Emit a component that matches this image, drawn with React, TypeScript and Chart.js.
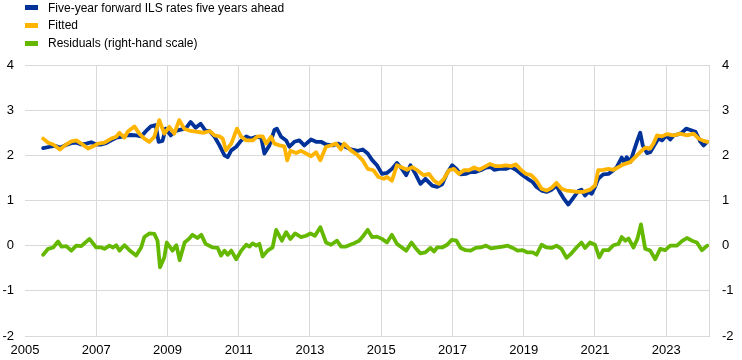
import React, { useEffect, useRef } from "react";
import { Chart, registerables } from "chart.js";

Chart.register(...registerables);

// ---- Data ----
const xTickYears = [2005, 2007, 2009, 2011, 2013, 2015, 2017, 2019, 2021, 2023];
const yTicks = [-2, -1, 0, 1, 2, 3, 4];

const ilsDates = [
  2005.51, 2005.70, 2005.84, 2005.98, 2006.12, 2006.30, 2006.44, 2006.58, 2006.72, 2006.86,
  2007.00, 2007.14, 2007.28, 2007.42, 2007.56, 2007.70, 2007.84, 2007.98, 2008.12, 2008.26,
  2008.40, 2008.53, 2008.67, 2008.75, 2008.86, 2008.95, 2009.09, 2009.23, 2009.37, 2009.51,
  2009.65, 2009.79, 2009.93, 2010.07, 2010.18, 2010.32, 2010.46, 2010.60, 2010.69, 2010.79,
  2010.93, 2011.07, 2011.21, 2011.35, 2011.49, 2011.63, 2011.72, 2011.86, 2012.00, 2012.07,
  2012.19, 2012.33, 2012.42, 2012.56, 2012.70, 2012.84, 2013.03, 2013.17, 2013.31, 2013.45,
  2013.64, 2013.78, 2013.96, 2014.15, 2014.34, 2014.48, 2014.62, 2014.74, 2014.88, 2015.02,
  2015.16, 2015.30, 2015.44, 2015.58, 2015.70, 2015.82, 2015.96, 2016.10, 2016.24, 2016.43,
  2016.57, 2016.71, 2016.85, 2016.99, 2017.11, 2017.23, 2017.37, 2017.51, 2017.65, 2017.79,
  2017.94, 2018.08, 2018.17, 2018.31, 2018.50, 2018.64, 2018.78, 2018.92, 2019.11, 2019.25,
  2019.36, 2019.50, 2019.64, 2019.78, 2019.92, 2020.01, 2020.11, 2020.25, 2020.39, 2020.53,
  2020.62, 2020.72, 2020.81, 2020.91, 2021.00, 2021.09, 2021.23, 2021.38, 2021.52, 2021.61,
  2021.75, 2021.82, 2021.89, 2021.99, 2022.08, 2022.19, 2022.27, 2022.34, 2022.46, 2022.55,
  2022.64, 2022.78, 2022.88, 2023.00, 2023.11, 2023.21, 2023.35, 2023.44, 2023.56, 2023.68,
  2023.82, 2023.96, 2024.05, 2024.15,
];
const ilsValues = [
  2.16, 2.19, 2.21, 2.17, 2.22, 2.27, 2.28, 2.24, 2.26, 2.29,
  2.24, 2.24, 2.27, 2.33, 2.39, 2.41, 2.44, 2.45, 2.44, 2.42,
  2.54, 2.64, 2.67, 2.30, 2.32, 2.59, 2.44, 2.54, 2.57, 2.59,
  2.74, 2.61, 2.70, 2.54, 2.54, 2.41, 2.22, 2.00, 1.96, 2.11,
  2.19, 2.33, 2.42, 2.37, 2.41, 2.39, 2.04, 2.22, 2.56, 2.59,
  2.41, 2.33, 2.19, 2.30, 2.33, 2.22, 2.35, 2.30, 2.30, 2.24,
  2.22, 2.26, 2.20, 2.13, 2.10, 2.13, 2.04, 1.90, 1.78, 1.59,
  1.61, 1.70, 1.83, 1.70, 1.56, 1.78, 1.59, 1.37, 1.48, 1.33,
  1.30, 1.36, 1.61, 1.78, 1.70, 1.58, 1.59, 1.63, 1.63, 1.67,
  1.73, 1.74, 1.68, 1.70, 1.70, 1.74, 1.68, 1.59, 1.48, 1.41,
  1.30, 1.22, 1.19, 1.24, 1.33, 1.19, 1.06, 0.91, 1.06, 1.21,
  1.24, 1.11, 1.19, 1.15, 1.30, 1.48, 1.58, 1.59, 1.67, 1.74,
  1.95, 1.85, 1.96, 1.85, 2.07, 2.33, 2.50, 2.22, 2.05, 2.07,
  2.19, 2.37, 2.33, 2.44, 2.35, 2.44, 2.47, 2.50, 2.59, 2.56,
  2.52, 2.30, 2.22, 2.30,
];

const fittedDates = [
  2005.51, 2005.65, 2005.79, 2005.98, 2006.12, 2006.30, 2006.44, 2006.58, 2006.77, 2006.91,
  2007.05, 2007.23, 2007.42, 2007.56, 2007.65, 2007.79, 2007.88, 2008.07, 2008.21, 2008.35,
  2008.49, 2008.63, 2008.77, 2008.91, 2009.05, 2009.19, 2009.33, 2009.47, 2009.65, 2009.84,
  2010.02, 2010.18, 2010.32, 2010.46, 2010.55, 2010.64, 2010.79, 2010.95, 2011.07, 2011.21,
  2011.39, 2011.53, 2011.67, 2011.77, 2011.91, 2012.00, 2012.14, 2012.28, 2012.36, 2012.45,
  2012.61, 2012.75, 2012.89, 2013.03, 2013.17, 2013.29, 2013.45, 2013.59, 2013.73, 2013.87,
  2013.96, 2014.15, 2014.34, 2014.48, 2014.62, 2014.78, 2014.92, 2015.07, 2015.16, 2015.30,
  2015.44, 2015.58, 2015.72, 2015.87, 2016.01, 2016.19, 2016.34, 2016.48, 2016.62, 2016.76,
  2016.90, 2017.04, 2017.18, 2017.32, 2017.46, 2017.61, 2017.75, 2017.89, 2018.05, 2018.22,
  2018.36, 2018.50, 2018.64, 2018.78, 2018.92, 2019.06, 2019.21, 2019.36, 2019.50, 2019.64,
  2019.78, 2019.92, 2020.06, 2020.20, 2020.34, 2020.48, 2020.67, 2020.86, 2021.00, 2021.09,
  2021.23, 2021.38, 2021.52, 2021.66, 2021.80, 2021.99, 2022.13, 2022.27, 2022.41, 2022.55,
  2022.64, 2022.74, 2022.88, 2023.02, 2023.21, 2023.39, 2023.58, 2023.77, 2023.91, 2024.05,
  2024.15,
];
const fittedValues = [
  2.37, 2.28, 2.24, 2.13, 2.22, 2.31, 2.33, 2.26, 2.15, 2.20,
  2.26, 2.28, 2.37, 2.41, 2.50, 2.39, 2.52, 2.64, 2.48, 2.37,
  2.30, 2.41, 2.78, 2.48, 2.63, 2.48, 2.78, 2.59, 2.54, 2.52,
  2.50, 2.54, 2.44, 2.42, 2.37, 2.11, 2.26, 2.59, 2.41, 2.33,
  2.33, 2.42, 2.42, 2.26, 2.41, 2.26, 2.22, 2.20, 1.89, 2.10,
  2.05, 2.10, 2.04, 1.98, 2.07, 1.89, 2.19, 2.22, 2.26, 2.13,
  2.26, 2.11, 2.00, 1.89, 1.70, 1.67, 1.52, 1.48, 1.52, 1.44,
  1.78, 1.73, 1.68, 1.74, 1.67, 1.56, 1.59, 1.44, 1.37, 1.48,
  1.67, 1.70, 1.59, 1.67, 1.67, 1.73, 1.68, 1.74, 1.81, 1.76,
  1.76, 1.78, 1.76, 1.80, 1.68, 1.59, 1.56, 1.44, 1.26, 1.22,
  1.28, 1.39, 1.26, 1.22, 1.21, 1.19, 1.19, 1.24, 1.33, 1.67,
  1.68, 1.70, 1.68, 1.74, 1.80, 1.85, 1.96, 2.07, 2.17, 2.15,
  2.26, 2.44, 2.42, 2.47, 2.44, 2.48, 2.44, 2.48, 2.37, 2.32,
  2.30,
];

const residualDates = [
  2005.51, 2005.65, 2005.79, 2005.93, 2006.02, 2006.16, 2006.30, 2006.44, 2006.58, 2006.81,
  2007.00, 2007.14, 2007.23, 2007.37, 2007.47, 2007.56, 2007.65, 2007.79, 2007.93, 2008.12,
  2008.26, 2008.35, 2008.49, 2008.63, 2008.72, 2008.79, 2008.91, 2008.98, 2009.14, 2009.25,
  2009.34, 2009.48, 2009.60, 2009.70, 2009.84, 2009.95, 2010.07, 2010.27, 2010.41, 2010.50,
  2010.60, 2010.69, 2010.79, 2010.93, 2011.07, 2011.21, 2011.30, 2011.39, 2011.49, 2011.58,
  2011.67, 2011.81, 2011.95, 2012.05, 2012.21, 2012.33, 2012.45, 2012.58, 2012.75, 2012.89,
  2013.01, 2013.14, 2013.29, 2013.45, 2013.59, 2013.76, 2013.87, 2014.01, 2014.20, 2014.38,
  2014.50, 2014.62, 2014.74, 2014.88, 2015.02, 2015.16, 2015.30, 2015.44, 2015.58, 2015.70,
  2015.85, 2015.96, 2016.10, 2016.24, 2016.38, 2016.48, 2016.57, 2016.71, 2016.85, 2016.98,
  2017.11, 2017.23, 2017.37, 2017.51, 2017.65, 2017.79, 2017.94, 2018.08, 2018.26, 2018.41,
  2018.55, 2018.69, 2018.83, 2018.97, 2019.11, 2019.25, 2019.36, 2019.50, 2019.64, 2019.78,
  2019.92, 2020.06, 2020.20, 2020.34, 2020.48, 2020.62, 2020.72, 2020.86, 2021.00, 2021.12,
  2021.23, 2021.38, 2021.52, 2021.66, 2021.75, 2021.85, 2021.94, 2022.08, 2022.19, 2022.29,
  2022.41, 2022.55, 2022.69, 2022.83, 2022.97, 2023.11, 2023.30, 2023.44, 2023.58, 2023.72,
  2023.86, 2024.00, 2024.15,
];
const residualValues = [
  -0.20, -0.07, -0.04, 0.09, -0.02, -0.01, -0.11, 0.00, -0.01, 0.15,
  -0.04, -0.04, -0.07, 0.00, -0.04, 0.01, -0.11, 0.01, -0.10, -0.22,
  -0.04, 0.19, 0.27, 0.26, 0.11, -0.48, -0.26, 0.07, -0.11, 0.01,
  -0.32, 0.07, 0.15, 0.24, 0.17, 0.24, 0.04, -0.04, -0.05, -0.22,
  -0.11, -0.20, -0.11, -0.30, -0.11, 0.02, -0.02, 0.05, 0.00, 0.04,
  -0.24, -0.11, -0.04, 0.35, 0.11, 0.30, 0.15, 0.27, 0.19, 0.22,
  0.27, 0.22, 0.41, 0.07, 0.02, 0.11, -0.02, -0.02, 0.04, 0.11,
  0.22, 0.35, 0.19, 0.20, 0.15, 0.07, 0.24, 0.04, -0.04, -0.11,
  0.07, -0.05, -0.17, -0.15, -0.05, -0.13, -0.04, -0.04, 0.02, 0.13,
  0.11, -0.05, -0.10, -0.11, -0.05, -0.04, 0.00, -0.06, -0.04, -0.02,
  0.00, -0.05, -0.11, -0.10, -0.15, -0.15, -0.20, 0.02, -0.04, -0.05,
  0.00, -0.07, -0.27, -0.17, -0.04, 0.07, -0.05, 0.07, 0.02, -0.26,
  -0.10, -0.10, 0.01, 0.04, 0.19, 0.11, 0.16, -0.04, 0.15, 0.47,
  -0.07, -0.11, -0.30, -0.07, -0.10, 0.00, 0.00, 0.10, 0.17, 0.11,
  0.07, -0.10, 0.00,
];

const seriesNames = [
  "Five-year forward ILS rates five years ahead",
  "Fitted",
  "Residuals (right-hand scale)",
];
const seriesColors = ["#003299", "#ffb400", "#65b800"];

const FONT = "'Liberation Sans', Arial, sans-serif";
const GRID = "#d9d9d9";

function pairs(xs: number[], ys: number[]) {
  return xs.map((x, i) => ({ x, y: ys[i] }));
}

export default function App() {
  const ref = useRef<HTMLCanvasElement>(null);

  useEffect(() => {
    document.body.style.margin = "0";
    const canvas = ref.current;
    if (!canvas) return;
    const lineBase = {
      pointRadius: 0,
      borderWidth: 3.8,
      tension: 0,
      fill: false,
      borderJoinStyle: "round" as const,
      borderCapStyle: "round" as const,
    };
    const tickFont = { family: FONT, size: 13 };
    const chart = new Chart(canvas, {
      type: "line",
      data: {
        datasets: [
          {
            ...lineBase,
            label: seriesNames[0],
            data: pairs(ilsDates, ilsValues),
            borderColor: seriesColors[0],
            backgroundColor: seriesColors[0],
            yAxisID: "y",
            order: 2,
          },
          {
            ...lineBase,
            label: seriesNames[1],
            data: pairs(fittedDates, fittedValues),
            borderColor: seriesColors[1],
            backgroundColor: seriesColors[1],
            yAxisID: "y",
            order: 1,
          },
          {
            ...lineBase,
            label: seriesNames[2],
            data: pairs(residualDates, residualValues),
            borderColor: seriesColors[2],
            backgroundColor: seriesColors[2],
            yAxisID: "y2",
            order: 0,
          },
        ],
      },
      options: {
        animation: false,
        responsive: false,
        devicePixelRatio: 1,
        events: [],
        layout: { padding: { top: 65, left: 0, right: 0, bottom: 0 } },
        plugins: {
          legend: { display: false },
          tooltip: { enabled: false },
        },
        scales: {
          x: {
            type: "linear",
            min: 2005,
            max: 2024.2,
            afterBuildTicks: (axis: any) => {
              axis.ticks = xTickYears.map((v) => ({ value: v }));
            },
            afterFit: (axis: any) => {
              axis.height = 24;
            },
            ticks: {
              padding: 7,
              color: "#000",
              font: tickFont,
              maxRotation: 0,
              autoSkip: false,
              callback: (v: any) => String(v),
            },
            grid: {
              color: (ctx: any) =>
                ctx.tick && ctx.tick.value === xTickYears[0] ? "rgba(0,0,0,0)" : GRID,
              lineWidth: 1,
              drawTicks: false,
            },
            border: { display: false },
          },
          y: {
            type: "linear",
            position: "left",
            min: -2,
            max: 4,
            afterBuildTicks: (axis: any) => {
              axis.ticks = yTicks.map((v) => ({ value: v }));
            },
            afterFit: (axis: any) => {
              axis.width = 25;
            },
            ticks: {
              padding: 11,
              color: "#000",
              font: tickFont,
              callback: (v: any) => String(v),
            },
            grid: { color: GRID, lineWidth: 1, drawTicks: false },
            border: { display: false },
          },
          y2: {
            type: "linear",
            position: "right",
            min: -2,
            max: 4,
            afterBuildTicks: (axis: any) => {
              axis.ticks = yTicks.map((v) => ({ value: v }));
            },
            afterFit: (axis: any) => {
              axis.width = 33;
            },
            ticks: {
              padding: 13,
              color: "#000",
              font: tickFont,
              callback: (v: any) => String(v),
            },
            grid: { display: false, drawTicks: false },
            border: { display: true, color: GRID, width: 1 },
          },
        },
      },
    });
    return () => chart.destroy();
  }, []);

  return (
    <div style={{ position: "relative", width: 742, height: 360, fontFamily: FONT }}>
      <canvas ref={ref} width={742} height={360} style={{ display: "block", width: 742, height: 360 }} />
      <div style={{ position: "absolute", left: 0, top: 0 }}>
        {seriesNames.map((name, i) => (
          <div
            key={name}
            style={{
              position: "absolute",
              left: 25,
              top: [0, 17.5, 35.5][i],
              height: 15,
              display: "flex",
              alignItems: "center",
              whiteSpace: "nowrap",
              fontSize: 12,
              color: "#000",
            }}
          >
            <span
              style={{
                display: "inline-block",
                width: 13,
                height: 5,
                background: seriesColors[i],
                marginRight: 10,
              }}
            />
            <span>{name}</span>
          </div>
        ))}
      </div>
    </div>
  );
}
